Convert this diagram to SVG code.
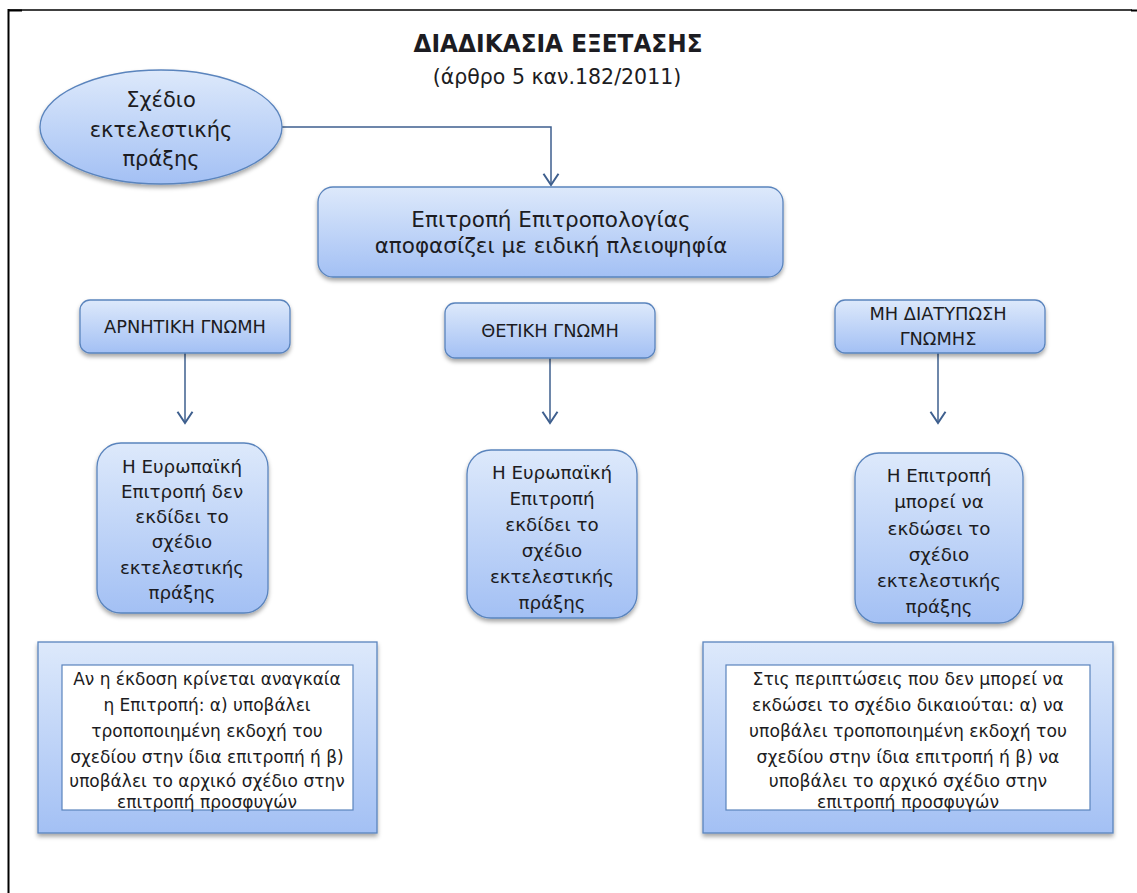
<svg xmlns="http://www.w3.org/2000/svg" width="1137" height="893" viewBox="0 0 1137 893">
<defs>
<linearGradient id="g" x1="0" y1="0" x2="0" y2="1">
<stop offset="0" stop-color="#dde9fb"/>
<stop offset="1" stop-color="#a3c0f4"/>
</linearGradient>
<filter id="sh" x="-10%" y="-10%" width="120%" height="130%">
<feDropShadow dx="0" dy="3" stdDeviation="2" flood-color="#000" flood-opacity="0.35"/>
</filter>
<marker id="arr" markerWidth="20" markerHeight="20" refX="0" refY="0" viewBox="-12 -8 14 16" orient="auto" markerUnits="userSpaceOnUse">
<path d="M-9,-6 L0,0 L-9,6" fill="none" stroke="#3e5f8e" stroke-width="1.6"/>
</marker>
<style>
.n{fill:url(#g);stroke:#5a84bd;stroke-width:1.3;filter:url(#sh)}
.w{fill:#fff;stroke:#5a84bd;stroke-width:1.2}
.t{font-family:"DejaVu Sans","Liberation Sans",sans-serif;fill:#1c1c22;text-anchor:middle}
.c{fill:none;stroke:#3e5f8e;stroke-width:1.5;marker-end:url(#arr)}
</style>
</defs>
<rect width="1137" height="893" fill="#fff"/>
<g id="page-border">
<line x1="8" y1="10" x2="1132" y2="10" stroke="#000" stroke-width="1.3"/>
<line x1="8.5" y1="9" x2="8.5" y2="893" stroke="#000" stroke-width="2"/>
<line x1="8" y1="10.5" x2="22" y2="10.5" stroke="#000" stroke-width="2"/>
<line x1="1131" y1="10.5" x2="1137" y2="10.5" stroke="#000" stroke-width="2"/>
</g>
<g id="title">
<text class="t" x="558" y="52" font-size="24" font-weight="bold" textLength="289" lengthAdjust="spacingAndGlyphs">ΔΙΑΔΙΚΑΣΙΑ ΕΞΕΤΑΣΗΣ</text>
<text class="t" x="557" y="84" font-size="20.5">(άρθρο 5 καν.182/2011)</text>
</g>
<g id="connectors">
<path class="c" d="M282,127 H551 V185"/>
<path class="c" d="M185,353 V423"/>
<path class="c" d="M550,358 V423"/>
<path class="c" d="M938,353 V423"/>
</g>
<g id="draft">
<ellipse class="n" cx="161" cy="127" rx="121" ry="57"/>
<text class="t" font-size="21"><tspan x="161" y="107">Σχέδιο</tspan><tspan x="161" y="137">εκτελεστικής</tspan><tspan x="161" y="166">πράξης</tspan></text>
</g>
<g id="committee">
<rect class="n" x="318" y="187" width="465" height="90" rx="15"/>
<text class="t" font-size="21.5"><tspan x="551" y="227">Επιτροπή Επιτροπολογίας</tspan><tspan x="551" y="253">αποφασίζει με ειδική πλειοψηφία</tspan></text>
</g>
<g id="negative">
<rect class="n" x="80" y="300" width="210" height="53" rx="10"/>
<text class="t" x="185" y="333" font-size="17.8">ΑΡΝΗΤΙΚΗ ΓΝΩΜΗ</text>
</g>
<g id="positive">
<rect class="n" x="445" y="303" width="210" height="55" rx="10"/>
<text class="t" x="550" y="337" font-size="17.8">ΘΕΤΙΚΗ ΓΝΩΜΗ</text>
</g>
<g id="no-opinion">
<rect class="n" x="835" y="300" width="210" height="53" rx="10"/>
<text class="t" font-size="17.8"><tspan x="938" y="320">ΜΗ ΔΙΑΤΥΠΩΣΗ</tspan><tspan x="938" y="345">ΓΝΩΜΗΣ</tspan></text>
</g>
<g id="neg-result">
<rect class="n" x="97" y="443" width="171" height="170" rx="24"/>
<text class="t" font-size="18.3"><tspan x="182" y="473">Η Ευρωπαϊκή</tspan><tspan x="182" y="498">Επιτροπή δεν</tspan><tspan x="182" y="523">εκδίδει το</tspan><tspan x="182" y="548">σχέδιο</tspan><tspan x="182" y="574">εκτελεστικής</tspan><tspan x="182" y="599">πράξης</tspan></text>
</g>
<g id="pos-result">
<rect class="n" x="467" y="450" width="170" height="168" rx="24"/>
<text class="t" font-size="18.3"><tspan x="552" y="479">Η Ευρωπαϊκή</tspan><tspan x="552" y="505">Επιτροπή</tspan><tspan x="552" y="531">εκδίδει το</tspan><tspan x="552" y="557">σχέδιο</tspan><tspan x="552" y="583">εκτελεστικής</tspan><tspan x="552" y="609">πράξης</tspan></text>
</g>
<g id="noop-result">
<rect class="n" x="855" y="453" width="168" height="170" rx="24"/>
<text class="t" font-size="18.3"><tspan x="939" y="482">Η Επιτροπή</tspan><tspan x="939" y="508">μπορεί να</tspan><tspan x="939" y="535">εκδώσει το</tspan><tspan x="939" y="561">σχέδιο</tspan><tspan x="939" y="587">εκτελεστικής</tspan><tspan x="939" y="613">πράξης</tspan></text>
</g>
<g id="neg-note">
<rect class="n" x="38" y="642" width="339" height="191"/>
<rect class="w" x="62" y="665" width="291" height="145"/>
<text class="t" font-size="17"><tspan x="207" y="685">Αν η έκδοση κρίνεται αναγκαία</tspan><tspan x="207" y="711">η Επιτροπή: α) υποβάλει</tspan><tspan x="207" y="737">τροποποιημένη εκδοχή του</tspan><tspan x="207" y="763">σχεδίου στην ίδια επιτροπή ή β)</tspan><tspan x="207" y="787">υποβάλει το αρχικό σχέδιο στην</tspan><tspan x="207" y="808">επιτροπή προσφυγών</tspan></text>
</g>
<g id="noop-note">
<rect class="n" x="703" y="642" width="410" height="191"/>
<rect class="w" x="726" y="665" width="364" height="145"/>
<text class="t" font-size="17.2"><tspan x="908" y="685">Στις περιπτώσεις  που δεν μπορεί να</tspan><tspan x="908" y="711">εκδώσει  το σχέδιο  δικαιούται: α) να</tspan><tspan x="908" y="737">υποβάλει τροποποιημένη εκδοχή  του</tspan><tspan x="908" y="763">σχεδίου  στην ίδια επιτροπή ή β) να</tspan><tspan x="908" y="787">υποβάλει το αρχικό σχέδιο στην</tspan><tspan x="908" y="808">επιτροπή προσφυγών</tspan></text>
</g>
</svg>
